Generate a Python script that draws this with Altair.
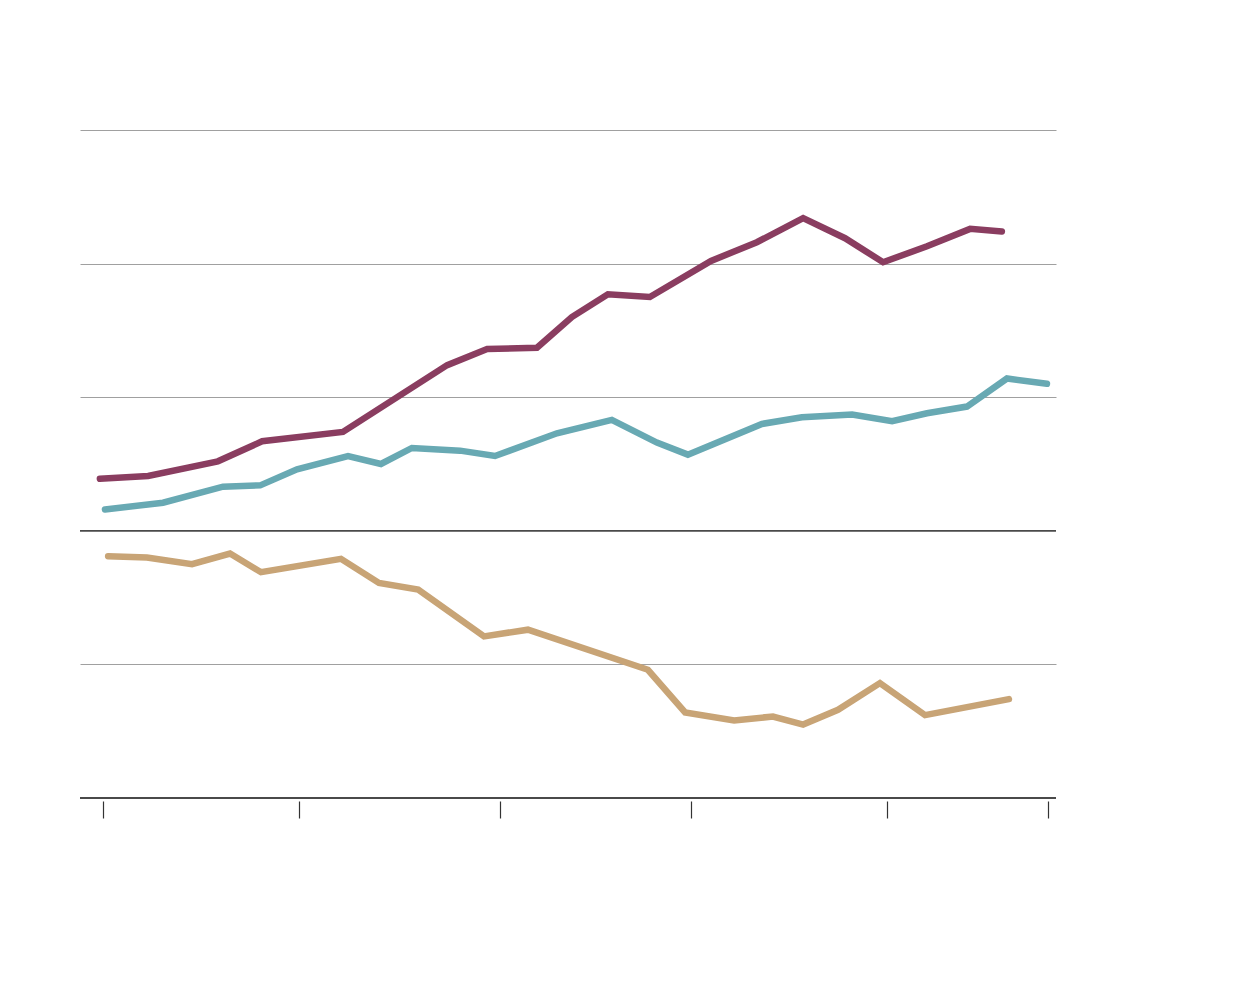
import altair as alt
import pandas as pd

# Series values (x in years, y in units)
purple_x = [1989.92, 1991.15, 1992.93, 1994.06, 1996.12, 1998.78, 1999.80, 2001.07, 2001.96,
            2002.88, 2003.95, 2005.51, 2006.68, 2007.86, 2008.93, 2009.90, 2011.02, 2012.12, 2012.93]
purple_y = [3.9, 4.1, 5.2, 6.7, 7.4, 12.4, 13.6, 13.7, 16.0,
            17.7, 17.5, 20.2, 21.6, 23.4, 21.9, 20.1, 21.3, 22.6, 22.4]

teal_x = [1990.05, 1991.53, 1993.06, 1994.01, 1994.95, 1996.25, 1997.09, 1997.88, 1999.11, 2000.0,
          2001.58, 2002.98, 2004.13, 2004.92, 2006.81, 2007.83, 2009.11, 2010.13, 2011.02, 2012.04,
          2013.06, 2014.08]
teal_y = [1.6, 2.1, 3.3, 3.4, 4.6, 5.6, 5.0, 6.2, 6.0, 5.6,
          7.3, 8.3, 6.6, 5.7, 8.0, 8.5, 8.7, 8.2, 8.8, 9.3,
          11.4, 11.0]

tan_x = [1990.13, 1991.12, 1992.27, 1993.24, 1994.03, 1996.07, 1997.04, 1998.04, 1999.72, 2000.84,
         2003.90, 2004.85, 2006.10, 2007.09, 2007.86, 2008.75, 2009.82, 2010.97, 2013.11]
tan_y = [-1.9, -2.0, -2.5, -1.7, -3.1, -2.1, -3.9, -4.4, -7.9, -7.4,
         -10.4, -13.6, -14.2, -13.9, -14.5, -13.4, -11.4, -13.8, -12.6]

series_names = ["purple", "teal", "tan"]
series_colors = ["#8a3d60", "#68a9b3", "#c8a476"]

x_ticks = [1990, 1995, 2000.13, 2005, 2010, 2014.11]
y_grid = [30, 20, 10, -10]
dark_lines = [0, -20]

rows = []
for name, xs, ys in [("purple", purple_x, purple_y), ("teal", teal_x, teal_y), ("tan", tan_x, tan_y)]:
    for i, (xv, yv) in enumerate(zip(xs, ys)):
        rows.append({"series": name, "x": xv, "y": yv, "order": i})
df = pd.DataFrame(rows)

x_scale = alt.Scale(domain=[1989.413, 2014.311], nice=False, zero=False)
y_scale = alt.Scale(domain=[-20, 30], nice=False, zero=False)

y_axis = alt.Axis(values=y_grid, labels=False, ticks=False, domain=False, grid=True,
                  gridColor="#a0a0a0", gridWidth=1, title=None)

rules = alt.Chart(pd.DataFrame({"v": dark_lines})).mark_rule(
    color="#4a4a4a", strokeWidth=1.8
).encode(
    y=alt.Y("v:Q", scale=y_scale, axis=y_axis)
)

lines = alt.Chart(df).mark_line(strokeWidth=6.5, strokeCap="round", strokeJoin="miter").encode(
    x=alt.X("x:Q", scale=x_scale,
            axis=alt.Axis(values=x_ticks, labels=False, ticks=True, tickSize=17,
                          tickColor="#333333", tickWidth=1.2, domain=False, grid=False,
                          offset=3, title=None)),
    y=alt.Y("y:Q", scale=y_scale, axis=y_axis),
    color=alt.Color("series:N", scale=alt.Scale(domain=series_names, range=series_colors), legend=None),
    order="order:Q",
)

chart = alt.layer(rules, lines).properties(
    width=976,
    height=668,
    autosize=alt.AutoSizeParams(type="none"),
    padding={"left": 72, "top": 122, "right": 176, "bottom": 180},
    background="white",
).configure_view(stroke=None)

chart.save("out.html", embed_options={"renderer": "svg", "actions": False})
